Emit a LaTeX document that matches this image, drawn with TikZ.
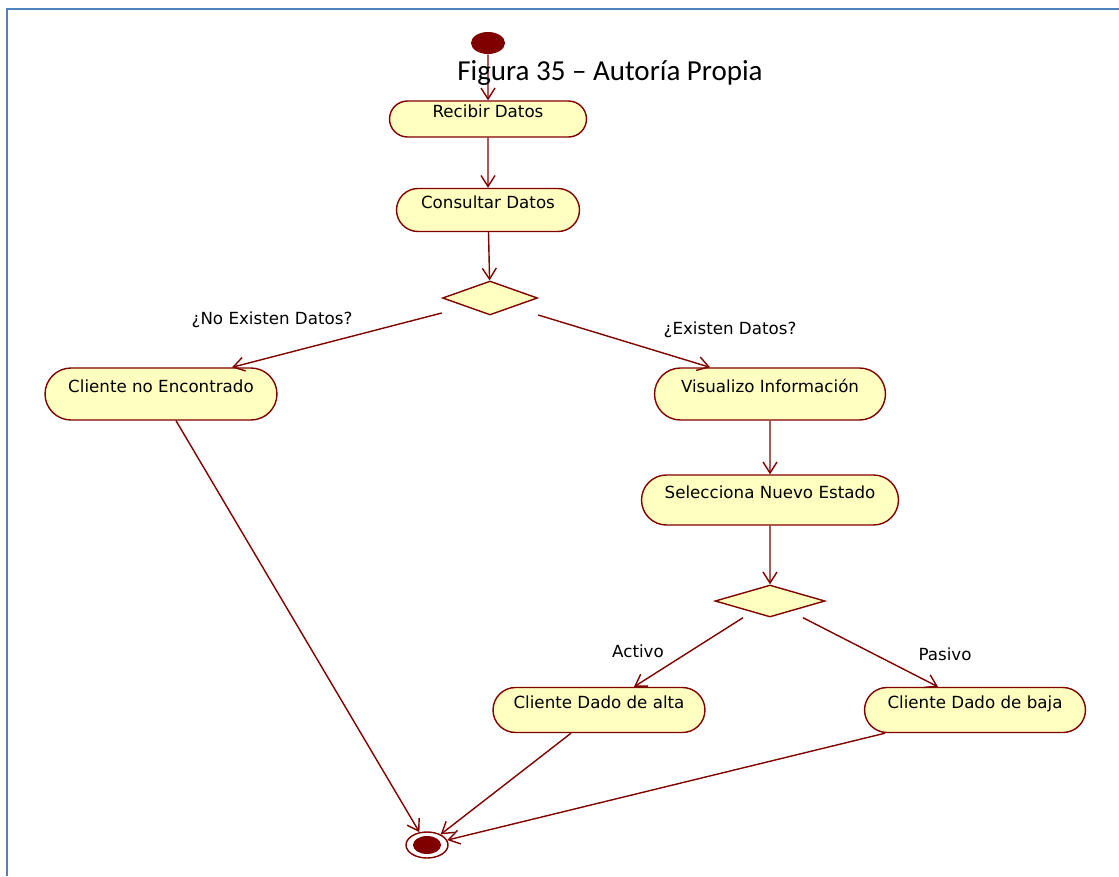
\documentclass[tikz,border=0pt]{standalone}
\usepackage{fontspec}
\usepackage{tikz}
\usetikzlibrary{arrows.meta,shapes.misc,shapes.geometric}
\newfontfamily\capfont{Carlito}
\newfontfamily\umlfont{DejaVu Sans}
\definecolor{umlred}{HTML}{800000}
\definecolor{umlfill}{HTML}{FFFFC0}
\definecolor{frameblue}{HTML}{4F81BD}
\tikzset{
  flow/.style={draw=umlred, line width=0.8pt, -{Straight Barb[length=2.2mm,width=2.8mm]}},
  act/.style={rounded rectangle, draw=umlred, fill=umlfill, line width=0.8pt,
    font=\umlfont\fontsize{9.5}{11}\selectfont, inner sep=0pt,
    text height=0.26cm, text depth=0.31cm},
  dec/.style={diamond, draw=umlred, fill=umlfill, line width=0.8pt, inner sep=0pt},
  startdot/.style={ellipse, fill=umlred, inner sep=0pt, minimum width=0.68cm, minimum height=0.44cm},
  endring/.style={ellipse, draw=umlred, fill=white, line width=0.8pt, inner sep=0pt,
    minimum width=0.84cm, minimum height=0.52cm},
  lab/.style={font=\umlfont\fontsize{9.5}{11}\selectfont, inner sep=0pt},
}
\begin{document}
\begin{tikzpicture}[x=0.02cm, y=-0.02cm]
  \useasboundingbox (0,0) rectangle (1119,876);
  \draw[frameblue, line width=1.2pt] (7,876) -- (7,9) -- (1119,9);

  \node[startdot] (ini) at (488,43) {};
  \node[act, minimum width=3.94cm, minimum height=0.72cm] (rec) at (488,119) {Recibir Datos};
  \node[act, minimum width=3.66cm, minimum height=0.86cm] (con) at (488,210) {Consultar Datos};
  \node[dec, minimum width=1.9cm, minimum height=0.68cm] (d1) at (490,298) {};
  \node[act, minimum width=4.64cm, minimum height=1.04cm] (cne) at (161,394) {Cliente no Encontrado};
  \node[act, minimum width=4.62cm, minimum height=1.04cm] (vis) at (770,394) {Visualizo Información};
  \node[act, minimum width=5.14cm, minimum height=1.0cm] (sel) at (770,500) {Selecciona Nuevo Estado};
  \node[dec, minimum width=2.2cm, minimum height=0.64cm] (d2) at (770,601) {};
  \node[act, minimum width=4.24cm, minimum height=0.9cm] (alta) at (599,710) {Cliente Dado de alta};
  \node[act, minimum width=4.42cm, minimum height=0.9cm] (baja) at (975,710) {Cliente Dado de baja};
  \node[endring] (fin) at (427,845) {};
  \fill[umlred] (fin.center) ellipse [x radius=0.28cm, y radius=0.18cm];

  % transitions
  \draw[flow] (ini) -- (rec);
  \draw[flow] (rec) -- (con);
  \draw[flow] (con) -- (d1);
  \draw[flow] ([yshift=-0.3cm]d1.west) -- ([xshift=1.42cm]cne.north);
  \draw[flow] ([yshift=-0.34cm]d1.east) -- ([xshift=-1.2cm]vis.north);
  \draw[flow] (vis) -- (sel);
  \draw[flow] (sel) -- (d2);
  \draw[flow] ([xshift=-0.54cm]d2.south) -- ([xshift=0.7cm]alta.north);
  \draw[flow] ([xshift=0.66cm]d2.south) -- ([xshift=-0.74cm]baja.north);
  \draw[flow] ([xshift=0.3cm]cne.south) -- (fin);
  \draw[flow] ([xshift=-0.56cm]alta.south) -- (fin);
  \draw[flow] ([xshift=-1.8cm]baja.south) -- (fin);

  \node[lab] (l1) at (272,320) {¿No Existen Datos?};
  \node[lab] (l2) at (730,330) {¿Existen Datos?};
  \node[lab] (l3) at (638,651) {Activo};
  \node[lab] (l4) at (945,654) {Pasivo};

  \node[font=\capfont\fontsize{16.5}{20}\selectfont, inner sep=0pt] (cap) at (610,73) {Figura 35 – Autoría Propia};
\end{tikzpicture}
\end{document}
